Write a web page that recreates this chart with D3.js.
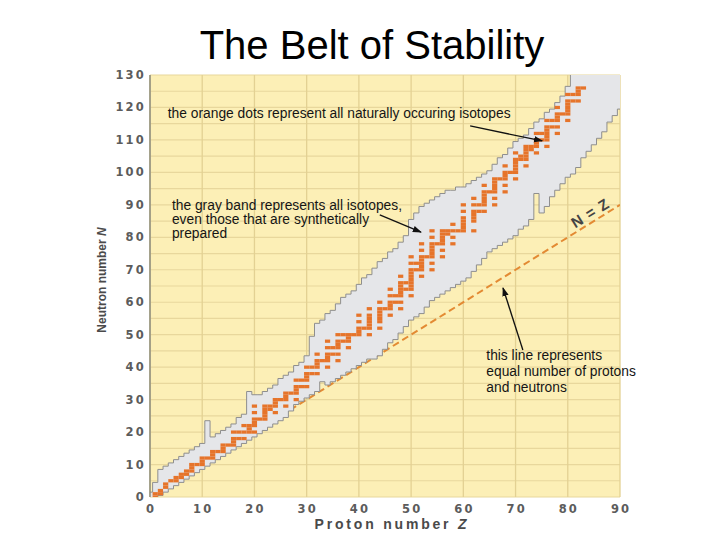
<!DOCTYPE html>
<html><head><meta charset="utf-8">
<script src="https://cdn.jsdelivr.net/npm/d3@7"></script>
<style>body{margin:0;background:#fff}</style>
</head><body><svg id="c" width="720" height="540"></svg>
<script>
const titleText = "The Belt of Stability";
const xLabel = "Proton number Z";
const yLabel = "Neutron number N";
const xTicks = [0,10,20,30,40,50,60,70,80,90];
const yTicks = [0,10,20,30,40,50,60,70,80,90,100,110,120,130];

// Gray band: range of known isotopes per proton number Z (index = Z)
const bandZ = [0,1,2,3,4,5,6,7,8,9,10,11,12,13,14,15,16,17,18,19,20,21,22,23,24,25,26,27,28,29,30,31,32,33,34,35,36,37,38,39,40,41,42,43,44,45,46,47,48,49,50,51,52,53,54,55,56,57,58,59,60,61,62,63,64,65,66,67,68,69,70,71,72,73,74,75,76,77,78,79,80,81,82,83,84,85,86,87,88,89,90];
const bandMaxN = [1,4,8,9,10,11,12,13,14,15,16,23,18,19,20,21,22,24,25,32,31,31,32,33,34,36,37,38,40,41,43,49,53,54,56,57,59,61,62,63,65,67,68,70,72,73,75,76,78,80,85,87,89,90,91,92,93,94,94,95,95,96,97,98,99,100,102,104,105,107,109,110,111,113,115,116,118,119,121,123,126,135,135,135,135,135,135,135,135,135,135];
const bandMinN = [0,0,1,2,3,4,5,6,7,8,9,10,11,12,13,14,15,16,17,18,19,20,21,22,23,24,25,27,29,30,31,32,33,36,35,36,37,38,39,40,41,42,43,43,44,46,48,49,51,53,55,56,57,59,61,62,63,64,65,66,67,68,70,72,74,76,77,78,79,80,81,83,84,86,94,88,90,93,95,97,99,100,102,105,107,109,111,113,116,118,120];

// Orange dots: naturally occurring isotopes (neutron numbers per Z)
const stableZ = [1,2,3,4,5,6,7,8,9,10,11,12,13,14,15,16,17,18,19,20,21,22,23,24,25,26,27,28,29,30,31,32,33,34,35,36,37,38,39,40,41,42,43,44,45,46,47,48,49,50,51,52,53,54,55,56,57,58,59,60,61,62,63,64,65,66,67,68,69,70,71,72,73,74,75,76,77,78,79,80,81,82,83];
const stableN = [
 [0,1],[1,2],[3,4],[5],[5,6],[6,7],[7,8],[8,9,10],[10],[10,11,12],
 [12],[12,13,14],[14],[14,15,16],[16],[16,17,18,20],[18,20],[18,20,22],[20,21,22],[20,22,23,24,26,28],
 [24],[24,25,26,27,28],[27,28],[26,28,29,30],[30],[28,30,31,32],[32],[30,32,33,34,36],[34,36],[34,36,37,38,40],
 [38,40],[38,40,41,42,44],[42],[40,42,43,44,46,48],[44,46],[42,44,46,47,48,50],[48,50],[46,48,49,50],[50],[50,51,52,54,56],
 [52],[50,52,53,54,55,56,58],[],[52,54,55,56,57,58,60],[58],[56,58,59,60,62,64],[60,62],[58,60,62,63,64,65,66,68],[64,66],[62,64,65,66,67,68,69,70,72,74],
 [70,72],[68,70,71,72,73,74,76,78],[74],[70,72,74,75,76,77,78,80,82],[78],[74,76,78,79,80,81,82],[81,82],[78,80,82,84],[82],[82,83,84,85,86,88,90],
 [],[82,85,86,87,88,90,92],[88,90],[88,90,91,92,93,94,96],[94],[90,92,94,95,96,97,98],[98],[94,96,98,99,100,102],[100],[98,100,101,102,103,104,106],
 [104,105],[102,104,105,106,107,108],[107,108],[106,108,109,110,112],[110,112],[108,110,111,112,113,114,116],[114,116],[112,114,116,117,118,120],[118],[116,118,119,120,121,122,124],
 [122,124],[122,124,125,126],[126]
];
const equalLine = [[0,0],[90,90]];

const noteDots = ["the orange dots represent all naturally occuring isotopes"];
const noteBand = ["the gray band represents all isotopes,","even those that are synthetically","prepared"];
const noteLine = ["this line represents","equal number of protons","and neutrons"];
const lineLabel = "N = Z";

const svg = d3.select("#c");
const x = d3.scaleLinear().domain([0,90]).range([150,620]);
const y = d3.scaleLinear().domain([0,130]).range([497,75]);

// title
svg.append("text").attr("x",372).attr("y",59).attr("text-anchor","middle")
  .style("font-family","'Liberation Sans',Arial,sans-serif").style("font-size","40px").attr("fill","#000")
  .text(titleText);

// plot background
svg.append("rect").attr("x",x(0)).attr("y",y(130)).attr("width",x(90)-x(0)).attr("height",y(0)-y(130)).attr("fill","#fcefb6");
svg.append("clipPath").attr("id","clip").append("rect")
  .attr("x",x(0)).attr("y",y(130)).attr("width",x(90)-x(0)).attr("height",y(0)-y(130));

const grid = svg.append("g");
grid.selectAll("line.h").data(d3.range(0,131,5)).join("line")
  .attr("x1",x(0)).attr("x2",x(90)).attr("y1",d=>y(d)).attr("y2",d=>y(d))
  .attr("stroke","#e8d79c").attr("stroke-width",1.2);
grid.selectAll("line.v").data(xTicks).join("line")
  .attr("x1",d=>x(d)).attr("x2",d=>x(d)).attr("y1",y(0)).attr("y2",y(130))
  .attr("stroke","#e3d193").attr("stroke-width",1.3);

const plot = svg.append("g").attr("clip-path","url(#clip)");

// N = Z dashed line (under band)
const ln = d3.line().x(d=>x(d[0])).y(d=>y(d[1]));
plot.append("path").attr("d",ln(equalLine)).attr("fill","none")
  .attr("stroke","#e38a33").attr("stroke-width",2).attr("stroke-dasharray","7,4");

// band
const upper = [], lower = [];
bandZ.forEach((z,i)=>{
  upper.push([z-0.5,bandMaxN[i]+0.5],[z+0.5,bandMaxN[i]+0.5]);
  lower.push([z-0.5,bandMinN[i]-0.5],[z+0.5,bandMinN[i]-0.5]);
});
const poly = upper.concat(lower.reverse());
plot.append("path").attr("d",ln(poly)+"Z").attr("fill","#e5e6e9")
  .attr("stroke","#8e8e8e").attr("stroke-width",1);

// orange dots
const cells = [];
stableZ.forEach((z,i)=>stableN[i].forEach(n=>cells.push({z,n})));
plot.selectAll("rect.iso").data(cells).join("rect")
  .attr("x",d=>x(d.z-0.5)).attr("y",d=>y(d.n+0.5))
  .attr("width",d=>x(d.z+0.5)-x(d.z-0.5)).attr("height",d=>y(d.n-0.5)-y(d.n+0.5))
  .attr("fill","#e6742a");

// left axis line
svg.append("line").attr("x1",x(0)).attr("x2",x(0)).attr("y1",y(0)).attr("y2",y(130))
  .attr("stroke","#8d8c7e").attr("stroke-width",1.5);

// tick labels
const tickFont = "'DejaVu Sans',Verdana,sans-serif";
svg.selectAll("text.yt").data(yTicks).join("text")
  .attr("x",x(0)-4).attr("y",d=>y(d)+4).attr("text-anchor","end")
  .style("font-family",tickFont).style("font-weight","bold").style("font-size","11.5px").style("letter-spacing","2.2px")
  .attr("fill","#5c5c5c").text(d=>d);
svg.selectAll("text.xt").data(xTicks).join("text")
  .attr("x",d=>x(d)+1.1).attr("y",513).attr("text-anchor","middle")
  .style("font-family",tickFont).style("font-weight","bold").style("font-size","11.5px").style("letter-spacing","2.2px")
  .attr("fill","#5c5c5c").text(d=>d);

// axis titles
const xt = svg.append("text").attr("x",392).attr("y",529).attr("text-anchor","middle")
  .style("font-family","'Liberation Sans',Arial,sans-serif").style("font-weight","bold").style("font-size","14px").style("letter-spacing","2.8px")
  .attr("fill","#4a4a4a");
xt.append("tspan").text(xLabel.slice(0,-1));
xt.append("tspan").style("font-style","italic").text(xLabel.slice(-1));
const yt = svg.append("text").attr("transform","translate(106,280) rotate(-90)").attr("text-anchor","middle")
  .style("font-family","'Liberation Sans',Arial,sans-serif").style("font-weight","bold").style("font-size","12px")
  .attr("fill","#4a4a4a");
yt.append("tspan").text(yLabel.slice(0,-1));
yt.append("tspan").style("font-style","italic").text(yLabel.slice(-1));

// annotations
const noteFont = "'Liberation Sans',Arial,sans-serif";
function note(lines, zx, ny, step){
  const t = svg.append("text").style("font-family",noteFont).style("font-size","13.8px").attr("fill","#151515");
  lines.forEach((s,i)=>t.append("tspan").attr("x",x(zx)).attr("y",y(ny)+i*step).text(s));
}
note(noteDots, 3.4, 116.8, 0);
note(noteBand, 4.2, 88.4, 14);
note(noteLine, 64.4, 42.2, 16);

svg.append("defs").append("marker").attr("id","ah").attr("viewBox","0 0 10 10")
  .attr("refX",9).attr("refY",5).attr("markerWidth",7).attr("markerHeight",7).attr("orient","auto")
  .append("path").attr("d","M0,1.5L10,5L0,8.5Z").attr("fill","#111");
const arrows = [
  [[61.3,114.3],[75.1,109.7]],
  [[44.0,86.9],[51.9,81.6]],
  [[71.4,45.3],[67.6,64.4]]
];
svg.selectAll("line.arr").data(arrows).join("line")
  .attr("x1",d=>x(d[0][0])).attr("y1",d=>y(d[0][1])).attr("x2",d=>x(d[1][0])).attr("y2",d=>y(d[1][1]))
  .attr("stroke","#111").attr("stroke-width",1.3).attr("marker-end","url(#ah)");

// N = Z label along line
const ang = Math.atan2(y(90)-y(0), x(90)-x(0))*180/Math.PI;
svg.append("text").attr("transform",`translate(${x(84.3)},${y(87.5)}) rotate(${ang})`)
  .attr("text-anchor","middle").attr("dy","0.35em")
  .style("font-family","'Liberation Sans',Arial,sans-serif").style("font-weight","bold").style("font-size","15px").style("letter-spacing","1px")
  .attr("fill","#444").text(lineLabel);
</script></body></html>
